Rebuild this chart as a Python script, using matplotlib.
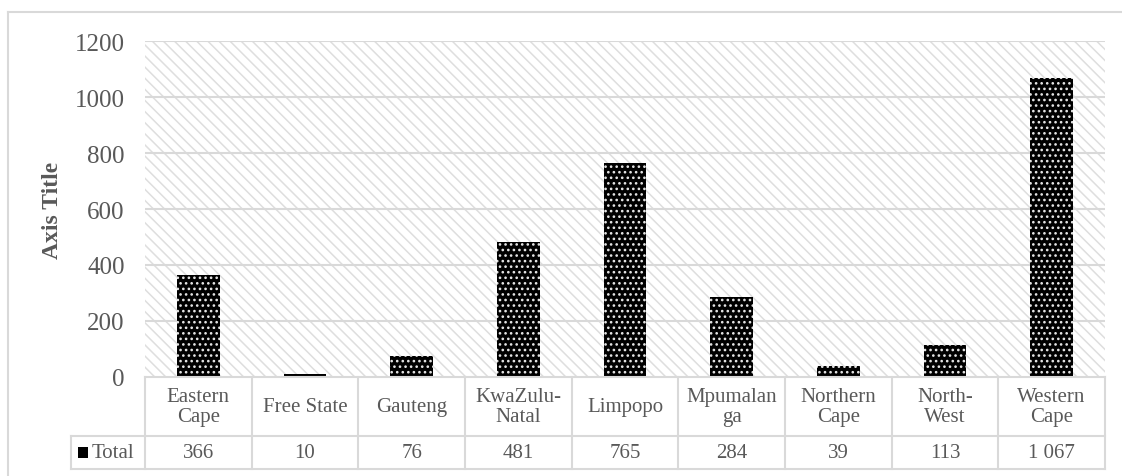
import matplotlib
matplotlib.use("Agg")
import matplotlib.pyplot as plt
from matplotlib.patches import Rectangle
from matplotlib.lines import Line2D
from matplotlib.transforms import blended_transform_factory

# Data
provinces = ["Eastern\nCape", "Free State", "Gauteng", "KwaZulu-\nNatal", "Limpopo",
             "Mpumalan\nga", "Northern\nCape", "North-\nWest", "Western\nCape"]
totals = [366, 10, 76, 481, 765, 284, 39, 113, 1067]
series_name = "Total"
y_ticks = [0, 200, 400, 600, 800, 1000, 1200]

W, H = 1122, 477
TEXT = "#595959"
GRID = "#d9d9d9"
plt.rcParams["font.family"] = ["Liberation Serif", "DejaVu Serif"]
plt.rcParams["hatch.linewidth"] = 1.1

fig = plt.figure(figsize=(W / 100, H / 100), dpi=100)
fig.patch.set_facecolor("white")

# Chart frame (top and left edges visible)
fig.add_artist(Line2D([8 / W, 1.0], [1 - 13 / H, 1 - 13 / H], color=GRID, lw=1.5,
                      transform=fig.transFigure))
fig.add_artist(Line2D([8 / W, 8 / W], [0, 1 - 13 / H], color=GRID, lw=1.5,
                      transform=fig.transFigure))

left, right, top, bottom = 145, 1105, 42, 378
ax = fig.add_axes([left / W, 1 - bottom / H, (right - left) / W, (bottom - top) / H])
ax.set_facecolor("white")
n = len(totals)
ax.set_xlim(-0.5, n - 0.5)
ax.set_ylim(0, 1200)

# Striped plot-area background
bg = Rectangle((0, 0), 1, 1, transform=ax.transAxes, facecolor="white",
               edgecolor="#dedede", hatch="\\\\\\", lw=0, zorder=0)
ax.add_patch(bg)

for y in y_ticks[1:]:
    ax.axhline(y, color=GRID, lw=1.5, zorder=1)

# Bars: black with white dot pattern
bars = ax.bar(range(n), totals, width=0.4, color="black", edgecolor="#e6e6e6",
              hatch="...", lw=0, zorder=2)

for s in ax.spines.values():
    s.set_visible(False)
ax.set_xticks([])
ax.set_yticks(y_ticks)
ax.tick_params(axis="y", length=0, pad=14.5, labelsize=18, labelcolor=TEXT)

ax.set_ylabel("Axis Title", fontsize=17, fontweight="bold", color=TEXT)
ax.yaxis.set_label_coords((63 - left) / (right - left), 0.5)

# Data table below the plot
tr = blended_transform_factory(ax.transData, ax.transAxes)
ph = bottom - top
colw = (right - left) / n
y0 = 0.0
y1 = -(437 - bottom) / ph
y2 = -(470 - bottom) / ph
xl = -0.5 + (71 - left) / colw

def seg(xs, ys):
    ax.add_line(Line2D(xs, ys, color=GRID, lw=1.5, transform=tr, clip_on=False, zorder=3))

seg([-0.5, n - 0.5], [y0, y0])
seg([xl, n - 0.5], [y1, y1])
seg([xl, n - 0.5], [y2, y2])
for i in range(n + 1):
    seg([i - 0.5, i - 0.5], [y0, y2])
seg([xl, xl], [y1, y2])

for i, (name, v) in enumerate(zip(provinces, totals)):
    ax.text(i, (y0 + y1) / 2, name, transform=tr, ha="center", va="center",
            fontsize=15, color=TEXT, linespacing=1.05)
    ax.text(i, (y1 + y2) / 2, f"{v:,}".replace(",", " "), transform=tr,
            ha="center", va="center", fontsize=15, color=TEXT)

# Legend key and series name
ym = (y1 + y2) / 2
key = Rectangle((-0.5 + (78 - left) / colw, ym - 5.5 / ph), 10 / colw, 11 / ph,
                transform=tr, facecolor="black", edgecolor="#e6e6e6", hatch=".",
                lw=0, clip_on=False, zorder=3)
ax.add_patch(key)
ax.text(-0.5 + (92 - left) / colw, ym, series_name, transform=tr,
        ha="left", va="center", fontsize=15, color=TEXT)

fig.savefig("out.png", dpi=100, facecolor="white")
